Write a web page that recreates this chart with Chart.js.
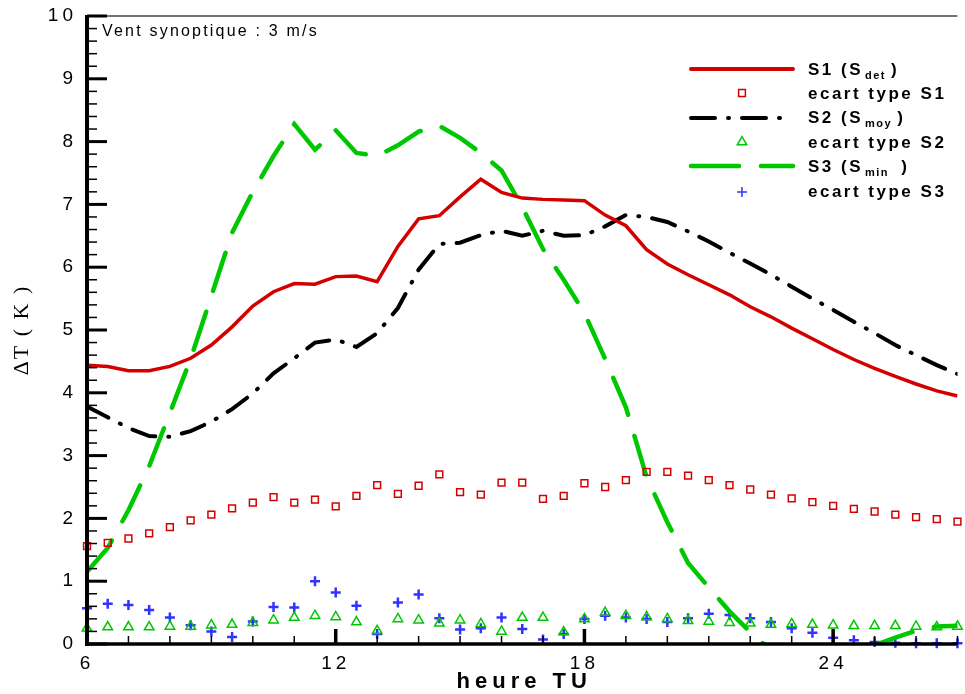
<!DOCTYPE html>
<html>
<head>
<meta charset="utf-8">
<script src="https://cdn.jsdelivr.net/npm/chart.js@4.4.1/dist/chart.umd.min.js"></script>
<style>
  body { margin: 0; background: #fff; }
  canvas { display: block; }
</style>
</head>
<body>
<canvas id="deltaT" width="965" height="694"></canvas>
<script>
// heure TU, un point toutes les demi-heures
const hours = [6, 6.5, 7, 7.5, 8, 8.5, 9, 9.5, 10, 10.5,
               11, 11.5, 12, 12.5, 13, 13.5, 14, 14.5, 15, 15.5,
               16, 16.5, 17, 17.5, 18, 18.5, 19, 19.5, 20, 20.5,
               21, 21.5, 22, 22.5, 23, 23.5, 24, 24.5, 25, 25.5,
               26, 26.5, 27];

const s1Det = [4.44, 4.42, 4.35, 4.35, 4.42, 4.55, 4.76, 5.05, 5.38, 5.61,
               5.74, 5.73, 5.85, 5.86, 5.77, 6.33, 6.77, 6.82, 7.12, 7.40,
               7.19, 7.10, 7.08, 7.07, 7.06, 6.83, 6.66, 6.28, 6.05, 5.88,
               5.72, 5.56, 5.37, 5.21, 5.03, 4.86, 4.69, 4.53, 4.39, 4.26,
               4.14, 4.03, 3.95];

const s2Moy = [3.78, 3.61, 3.44, 3.31, 3.30, 3.39, 3.54, 3.74, 3.99, 4.31,
               4.55, 4.80, 4.85, 4.73, 4.95, 5.35, 5.96, 6.37, 6.39, 6.51,
               6.58, 6.50, 6.58, 6.50, 6.51, 6.65, 6.83, 6.80, 6.72, 6.57,
               6.41, 6.23, 6.06, 5.88, 5.69, 5.50, 5.32, 5.13, 4.95, 4.76,
               4.60, 4.44, 4.30];

const s3Min = [1.15, 1.53, 2.13, 2.83, 3.68, 4.54, 5.54, 6.55, 7.20, 7.77,
               8.28, 7.87, 8.18, 7.82, 7.77, 7.94, 8.16, 8.25, 8.06, 7.82,
               7.54, 6.96, 6.29, 5.80, 5.27, 4.54, 3.77, 2.66, 1.94, 1.29,
               0.90, 0.52, 0.19, -0.10, -0.30, -0.38, -0.35, -0.22, -0.02, 0.10,
               0.21, 0.28, 0.29];

const ecartS1 = [1.56, 1.61, 1.68, 1.76, 1.86, 1.97, 2.06, 2.16, 2.25, 2.34,
                 2.25, 2.30, 2.19, 2.36, 2.53, 2.39, 2.52, 2.70, 2.42, 2.38,
                 2.57, 2.57, 2.31, 2.36, 2.56, 2.50, 2.61, 2.74, 2.74, 2.68,
                 2.61, 2.53, 2.46, 2.38, 2.32, 2.26, 2.20, 2.15, 2.11, 2.06,
                 2.02, 1.99, 1.95];

const ecartS2 = [0.25, 0.27, 0.27, 0.27, 0.28, 0.28, 0.30, 0.31, 0.34, 0.38,
                 0.42, 0.45, 0.43, 0.35, 0.21, 0.40, 0.38, 0.33, 0.38, 0.32,
                 0.20, 0.42, 0.42, 0.19, 0.40, 0.50, 0.45, 0.43, 0.40, 0.37,
                 0.36, 0.34, 0.33, 0.31, 0.32, 0.31, 0.30, 0.29, 0.29, 0.29,
                 0.28, 0.27, 0.28];

const ecartS3 = [0.57, 0.64, 0.62, 0.54, 0.42, 0.30, 0.20, 0.11, 0.36, 0.59,
                 0.58, 1.00, 0.82, 0.61, 0.16, 0.66, 0.79, 0.41, 0.23, 0.25,
                 0.42, 0.24, 0.07, 0.16, 0.40, 0.45, 0.42, 0.40, 0.35, 0.41,
                 0.48, 0.46, 0.41, 0.35, 0.25, 0.18, 0.10, 0.06, 0.03, 0.02,
                 0.01, 0.01, 0.01];

const xTickLabels = [6, 12, 18, 24];
const yTickLabels = [0, 1, 2, 3, 4, 5, 6, 7, 8, 9, 10];

const RED = '#d40000';
const GREEN = '#00c800';
const BLUE = '#3333ff';
const DASH_S2 = [24, 13, 1, 13];
const DASH_S3 = [40, 22];

const toPoints = ys => hours.map((h, i) => ({ x: h, y: ys[i] }));

// axes facon Tecplot : trait epais, graduations vers l'interieur
const tecplotFrame = {
    id: 'tecplotFrame',
    beforeDraw(chart) {
        chart.ctx.letterSpacing = '4px';
    },
    afterDatasetsDraw(chart) {
        const { ctx, chartArea: a, scales: { x, y } } = chart;
        ctx.save();
        ctx.letterSpacing = '0px';
        ctx.lineCap = 'butt';

        // cadre du haut
        ctx.strokeStyle = '#444';
        ctx.lineWidth = 1.5;
        ctx.beginPath();
        ctx.moveTo(a.left, a.top);
        ctx.lineTo(a.right, a.top);
        ctx.stroke();

        ctx.strokeStyle = '#000';
        // graduations y
        for (let i = 0; i <= 50; i++) {
            const py = y.getPixelForValue(i / 5);
            const major = i % 5 === 0;
            ctx.lineWidth = major ? 3 : 1.5;
            ctx.beginPath();
            ctx.moveTo(a.left, py);
            ctx.lineTo(a.left + (major ? 20 : 10), py);
            ctx.stroke();
        }
        // graduations x
        for (let h = 6; h <= 27; h++) {
            const px = x.getPixelForValue(h);
            const major = xTickLabels.includes(h);
            ctx.lineWidth = major ? 3.5 : 1.5;
            ctx.beginPath();
            ctx.moveTo(px, a.bottom);
            ctx.lineTo(px, a.bottom - (major ? 15 : 8));
            ctx.stroke();
        }
        // axes
        ctx.lineWidth = 4;
        ctx.beginPath();
        ctx.moveTo(a.left, a.top - 1);
        ctx.lineTo(a.left, a.bottom + 2);
        ctx.stroke();
        ctx.lineWidth = 3.5;
        ctx.beginPath();
        ctx.moveTo(a.left - 2, a.bottom);
        ctx.lineTo(a.right, a.bottom);
        ctx.stroke();
        ctx.restore();
    },
    afterDraw(chart) {
        const { ctx, chartArea: a } = chart;
        ctx.save();
        ctx.fillStyle = '#000';

        // titres des axes
        ctx.font = 'bold 22px "Liberation Sans", Arial, sans-serif';
        ctx.letterSpacing = '5px';
        ctx.textAlign = 'center';
        ctx.textBaseline = 'alphabetic';
        ctx.fillText('heure TU', (a.left + a.right) / 2 + 2, 688);

        ctx.save();
        ctx.translate(22, (a.top + a.bottom) / 2);
        ctx.rotate(-Math.PI / 2);
        ctx.font = '22px "Liberation Serif", "Times New Roman", serif';
        ctx.letterSpacing = '2px';
        ctx.textBaseline = 'middle';
        ctx.fillText('ΔT ( K )', 0, 0);
        ctx.restore();

        // annotation
        ctx.font = '16px "Liberation Sans", Arial, sans-serif';
        ctx.letterSpacing = '2.2px';
        ctx.textAlign = 'left';
        ctx.fillText('Vent synoptique : 3 m/s', 102, 36);

        // legende
        const lx0 = 691, lx1 = 793, mx = 742, tx = 808;
        const line = (yy, color, width, dash) => {
            ctx.save();
            ctx.strokeStyle = color;
            ctx.lineWidth = width;
            ctx.lineCap = 'round';
            ctx.setLineDash(dash);
            ctx.beginPath();
            ctx.moveTo(lx0, yy);
            ctx.lineTo(lx1, yy);
            ctx.stroke();
            ctx.restore();
        };
        const mark = (yy, color, style, radius, width) => {
            ctx.save();
            ctx.strokeStyle = color;
            ctx.fillStyle = 'rgba(0,0,0,0)';
            Chart.helpers.drawPoint(ctx, { pointStyle: style, radius: radius, rotation: 0, borderWidth: width }, mx, yy);
            ctx.restore();
        };
        const label = (yy, main, sub, tail) => {
            ctx.font = 'bold 17px "Liberation Sans", Arial, sans-serif';
            ctx.letterSpacing = '2.5px';
            ctx.fillText(main, tx, yy);
            if (!sub) return;
            let xx = tx + ctx.measureText(main).width + 2;
            ctx.font = 'bold 11px "Liberation Sans", Arial, sans-serif';
            ctx.letterSpacing = '1.5px';
            ctx.fillText(sub, xx, yy + 4);
            xx += ctx.measureText(sub).width + 5;
            ctx.font = 'bold 17px "Liberation Sans", Arial, sans-serif';
            ctx.letterSpacing = '2.5px';
            ctx.fillText(tail, xx, yy);
        };

        line(69, RED, 4, []);
        label(75, 'S1 (S', 'det', ')');
        mark(93, RED, 'rect', 4.8, 1.5);
        label(99, 'ecart type S1');
        line(118, '#000', 4, DASH_S2);
        label(123, 'S2 (S', 'moy', ')');
        mark(142, GREEN, 'triangle', 5.5, 1.5);
        label(148, 'ecart type S2');
        line(166, GREEN, 4.5, [48, 22]);
        label(172, 'S3 (S', 'min', ' )');
        mark(192, BLUE, 'cross', 5, 2.5);
        label(197, 'ecart type S3');

        ctx.restore();
    }
};

new Chart(document.getElementById('deltaT'), {
    type: 'line',
    data: {
        datasets: [
            {
                label: 'S1 (Sdet)',
                data: toPoints(s1Det),
                borderColor: RED,
                borderWidth: 3.5,
                pointRadius: 0,
                fill: false
            },
            {
                label: 'ecart type S1',
                data: toPoints(ecartS1),
                showLine: false,
                pointStyle: 'rect',
                pointRadius: 4.8,
                pointBorderWidth: 1.5,
                pointBorderColor: RED,
                pointBackgroundColor: 'rgba(0,0,0,0)',
                clip: false
            },
            {
                label: 'S2 (Smoy)',
                data: toPoints(s2Moy),
                borderColor: '#000',
                borderWidth: 4,
                borderDash: DASH_S2,
                borderCapStyle: 'round',
                pointRadius: 0,
                fill: false
            },
            {
                label: 'ecart type S2',
                data: toPoints(ecartS2),
                showLine: false,
                pointStyle: 'triangle',
                pointRadius: 5.5,
                pointBorderWidth: 1.5,
                pointBorderColor: GREEN,
                pointBackgroundColor: 'rgba(0,0,0,0)',
                clip: false
            },
            {
                label: 'S3 (Smin)',
                data: toPoints(s3Min),
                borderColor: GREEN,
                borderWidth: 4.5,
                borderDash: DASH_S3,
                borderCapStyle: 'round',
                pointRadius: 0,
                fill: false
            },
            {
                label: 'ecart type S3',
                data: toPoints(ecartS3),
                showLine: false,
                pointStyle: 'cross',
                pointRadius: 5,
                pointBorderWidth: 2.5,
                pointBorderColor: BLUE,
                clip: false
            }
        ]
    },
    options: {
        responsive: false,
        animation: false,
        devicePixelRatio: 1,
        layout: { padding: { top: 16, right: 0, left: 0, bottom: 0 } },
        plugins: {
            legend: { display: false },
            tooltip: { enabled: false }
        },
        scales: {
            x: {
                type: 'linear',
                min: 6,
                max: 27,
                afterBuildTicks: scale => {
                    scale.ticks = xTickLabels.map(v => ({ value: v }));
                },
                afterFit: scale => {
                    scale.height = 50;
                    scale.paddingLeft = 0;
                    scale.paddingRight = 0;
                },
                grid: { display: false, drawTicks: false },
                border: { display: false },
                ticks: {
                    color: '#000',
                    padding: 8,
                    font: { family: '"Liberation Sans", Arial, sans-serif', size: 19 }
                }
            },
            y: {
                min: 0,
                max: 10,
                afterBuildTicks: scale => {
                    scale.ticks = yTickLabels.map(v => ({ value: v }));
                },
                afterFit: scale => {
                    scale.width = 87;
                    scale.paddingTop = 0;
                    scale.paddingBottom = 0;
                },
                grid: { display: false, drawTicks: false },
                border: { display: false },
                ticks: {
                    color: '#000',
                    padding: 10,
                    font: { family: '"Liberation Sans", Arial, sans-serif', size: 19 }
                }
            }
        }
    },
    plugins: [tecplotFrame]
});
</script>
</body>
</html>
